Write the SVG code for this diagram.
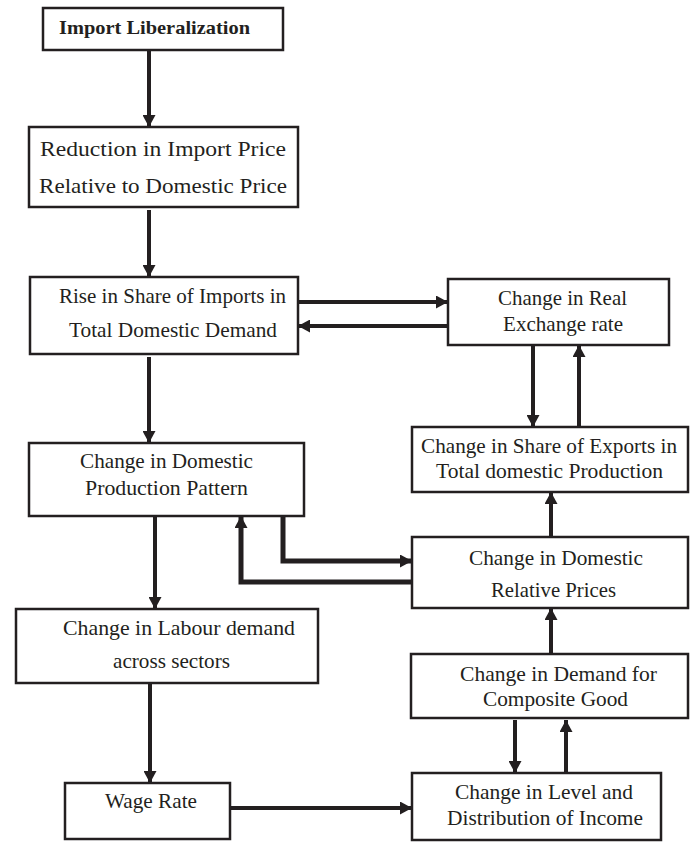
<svg xmlns="http://www.w3.org/2000/svg" width="694" height="842" viewBox="0 0 694 842">
<style>
.box{fill:#fff;stroke:#231f20;stroke-width:2.5}
.t{font-family:"Liberation Serif","Times New Roman",serif;font-size:21px;fill:#231f20;text-anchor:middle}
.b{font-weight:bold;font-size:19px}
.c{fill:none;stroke:#231f20;stroke-width:4;marker-end:url(#ah)}
.k{stroke-width:5}
</style>
<defs>
<marker id="ah" viewBox="0 0 12 13" markerWidth="12" markerHeight="13" refX="12" refY="6.5" orient="auto" markerUnits="userSpaceOnUse">
<path d="M0,0 L12,6.5 L0,13 z" fill="#231f20"/>
</marker>
</defs>
<rect width="694" height="842" fill="#fff"/>
<g id="connectors">
<path class="c" d="M149,51 L149,127"/>
<path class="c" d="M149,210 L149,277"/>
<path class="c" d="M298,302 L448,302"/>
<path class="c" d="M448,326 L298,326"/>
<path class="c" d="M149,357 L149,443"/>
<path class="c" d="M533,346 L533,427"/>
<path class="c" d="M579,427 L579,345"/>
<path class="c k" d="M283,517 L283,561 L412,561"/>
<path class="c k" d="M412,582 L241,582 L241,516"/>
<path class="c" d="M551,537 L551,492"/>
<path class="c" d="M155,517 L155,609"/>
<path class="c" d="M551,654 L551,608"/>
<path class="c" d="M515,720 L515,773"/>
<path class="c" d="M566,773 L566,720"/>
<path class="c" d="M150,684 L150,783"/>
<path class="c" d="M231,808 L412,808"/>
</g>
<g id="n1"><rect class="box" x="43" y="8" width="240" height="42"/>
<text class="t b" x="154.5" y="34" textLength="191" lengthAdjust="spacingAndGlyphs">Import Liberalization</text></g>
<g id="n2"><rect class="box" x="29" y="127" width="269" height="80"/>
<text class="t" x="163" y="156" textLength="246" lengthAdjust="spacingAndGlyphs">Reduction in Import Price</text>
<text class="t" x="163" y="193" textLength="248" lengthAdjust="spacingAndGlyphs">Relative to Domestic Price</text></g>
<g id="n3"><rect class="box" x="30" y="277" width="268" height="77"/>
<text class="t" x="172.5" y="303" textLength="227" lengthAdjust="spacingAndGlyphs">Rise in Share of Imports in</text>
<text class="t" x="173" y="337" textLength="208" lengthAdjust="spacingAndGlyphs">Total Domestic Demand</text></g>
<g id="n4"><rect class="box" x="448" y="279" width="221" height="66"/>
<text class="t" x="562.5" y="305" textLength="129" lengthAdjust="spacingAndGlyphs">Change in Real</text>
<text class="t" x="563" y="331" textLength="120" lengthAdjust="spacingAndGlyphs">Exchange rate</text></g>
<g id="n5"><rect class="box" x="29" y="443" width="275" height="73"/>
<text class="t" x="166.5" y="468" textLength="173" lengthAdjust="spacingAndGlyphs">Change in Domestic</text>
<text class="t" x="166.5" y="495" textLength="163" lengthAdjust="spacingAndGlyphs">Production Pattern</text></g>
<g id="n6"><rect class="box" x="412" y="427" width="276" height="65"/>
<text class="t" x="549" y="453" textLength="256" lengthAdjust="spacingAndGlyphs">Change in Share of Exports in</text>
<text class="t" x="549.5" y="478" textLength="227" lengthAdjust="spacingAndGlyphs">Total domestic Production</text></g>
<g id="n7"><rect class="box" x="412" y="537" width="276" height="71"/>
<text class="t" x="556" y="565" textLength="174" lengthAdjust="spacingAndGlyphs">Change in Domestic</text>
<text class="t" x="553.5" y="597" textLength="125" lengthAdjust="spacingAndGlyphs">Relative Prices</text></g>
<g id="n8"><rect class="box" x="411" y="654" width="277" height="64"/>
<text class="t" x="558.5" y="681" textLength="197" lengthAdjust="spacingAndGlyphs">Change in Demand for</text>
<text class="t" x="555.5" y="706" textLength="145" lengthAdjust="spacingAndGlyphs">Composite Good</text></g>
<g id="n9"><rect class="box" x="16" y="609" width="302" height="74"/>
<text class="t" x="179" y="635" textLength="232" lengthAdjust="spacingAndGlyphs">Change in Labour demand</text>
<text class="t" x="171.5" y="668" textLength="117" lengthAdjust="spacingAndGlyphs">across sectors</text></g>
<g id="n10"><rect class="box" x="65" y="783" width="165" height="56"/>
<text class="t" x="151" y="808" textLength="92" lengthAdjust="spacingAndGlyphs">Wage Rate</text></g>
<g id="n11"><rect class="box" x="412" y="773" width="249" height="67"/>
<text class="t" x="544" y="799" textLength="178" lengthAdjust="spacingAndGlyphs">Change in Level and</text>
<text class="t" x="545" y="825" textLength="196" lengthAdjust="spacingAndGlyphs">Distribution of Income</text></g>
</svg>
